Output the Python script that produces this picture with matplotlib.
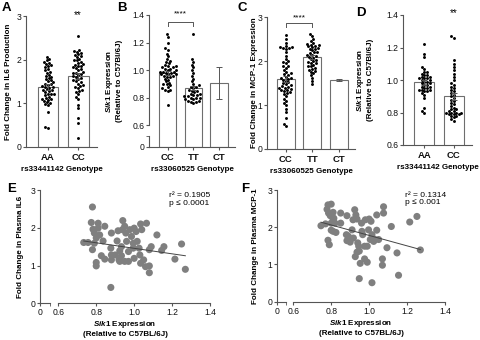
import matplotlib
matplotlib.use("Agg")
import matplotlib.pyplot as plt
import numpy as np
import pandas as pd
import seaborn as sns

# ---- datos ----
# A: IL6 production vs rs33441142
a_groups = ["AA", "CC"]
a_mean = [1.37, 1.63]
a_sem = [0.06, 0.07]
a_AA = [2.05, 2.02, 1.98, 1.95, 1.93, 1.90, 1.88, 1.85, 1.82, 1.78, 1.75, 1.72, 1.70,
        1.65, 1.62, 1.58, 1.55, 1.52, 1.50, 1.48, 1.45, 1.42, 1.40, 1.38, 1.36, 1.35,
        1.32, 1.30, 1.28, 1.25, 1.22, 1.20, 1.18, 1.15, 1.12, 1.10, 1.08, 1.05, 1.02,
        1.00, 0.97, 0.95, 0.80, 0.45, 0.42, 1.60, 1.45, 1.30, 1.20, 1.10]
a_CC = [2.55, 2.22, 2.20, 2.18, 2.15, 2.12, 2.10, 2.05, 2.02, 2.00, 1.98, 1.95, 1.92,
        1.90, 1.88, 1.85, 1.82, 1.80, 1.78, 1.75, 1.72, 1.70, 1.68, 1.65, 1.62, 1.60,
        1.58, 1.55, 1.52, 1.50, 1.48, 1.45, 1.42, 1.40, 1.38, 1.35, 1.30, 1.28, 1.25,
        1.20, 1.15, 1.10, 0.95, 0.88, 0.65, 0.55, 0.20, 1.70, 1.85, 2.08]

# B: Sik1 vs rs33060525
b_groups = ["CC", "TT", "CT"]
b_mean = [0.98, 0.873, 0.905]
b_sem = [0.015, 0.015, 0.115]
b_CC = [1.26, 1.24, 1.20, 1.16, 1.15, 1.12, 1.10, 1.08, 1.07, 1.06, 1.05, 1.04, 1.03,
        1.02, 1.02, 1.01, 1.00, 1.00, 0.99, 0.99, 0.98, 0.98, 0.97, 0.97, 0.96, 0.96,
        0.95, 0.95, 0.94, 0.93, 0.92, 0.91, 0.90, 0.90, 0.89, 0.88, 0.87, 0.86, 0.86,
        0.85, 0.75, 1.01, 1.03, 0.99, 0.97]
b_TT = [1.26, 1.08, 1.06, 1.04, 1.02, 1.00, 0.98, 0.96, 0.94, 0.92, 0.90, 0.89, 0.88,
        0.87, 0.86, 0.85, 0.84, 0.83, 0.82, 0.82, 0.81, 0.81, 0.80, 0.80, 0.80, 0.79,
        0.79, 0.78, 0.78, 0.77, 0.77, 0.76, 0.85, 0.83, 0.88]

# C: MCP-1 vs rs33060525
c_groups = ["CC", "TT", "CT"]
c_mean = [1.60, 2.10, 1.58]
c_sem = [0.07, 0.05, 0.02]
c_CC = [2.60, 2.50, 2.42, 2.35, 2.33, 2.32, 2.30, 2.28, 2.20, 2.12, 2.05, 2.00, 1.95,
        1.90, 1.88, 1.85, 1.80, 1.76, 1.72, 1.70, 1.68, 1.65, 1.62, 1.60, 1.58, 1.55,
        1.52, 1.50, 1.48, 1.45, 1.43, 1.40, 1.38, 1.36, 1.34, 1.32, 1.30, 1.28, 1.25,
        1.20, 1.15, 1.10, 1.05, 1.00, 0.92, 0.85, 0.70, 0.57, 0.52, 1.42, 1.62, 1.35,
        2.31, 1.98]
c_TT = [2.62, 2.58, 2.50, 2.45, 2.42, 2.40, 2.38, 2.36, 2.34, 2.32, 2.30, 2.28, 2.25,
        2.22, 2.20, 2.18, 2.15, 2.12, 2.10, 2.08, 2.05, 2.02, 2.00, 1.98, 1.95, 1.92,
        1.90, 1.88, 1.85, 1.82, 1.80, 1.78, 1.75, 1.72, 1.68, 1.62, 1.55, 1.48, 2.35,
        2.28, 2.15, 1.95]

# D: Sik1 vs rs33441142
d_groups = ["AA", "CC"]
d_mean = [0.986, 0.90]
d_sem = [0.015, 0.02]
d_AA = [1.22, 1.16, 1.14, 1.08, 1.07, 1.05, 1.04, 1.03, 1.03, 1.02, 1.02, 1.01, 1.01,
        1.00, 1.00, 0.99, 0.99, 0.98, 0.97, 0.97, 0.96, 0.95, 0.95, 0.94, 0.94, 0.94,
        0.93, 0.93, 0.92, 0.91, 0.89, 0.83, 0.81, 0.80, 1.05, 0.98, 0.96, 1.01]
d_CC = [1.27, 1.26, 1.12, 1.10, 1.08, 1.06, 1.04, 1.02, 1.00, 0.98, 0.97, 0.96, 0.95,
        0.94, 0.93, 0.92, 0.91, 0.90, 0.89, 0.88, 0.87, 0.86, 0.85, 0.84, 0.83, 0.82,
        0.81, 0.81, 0.80, 0.80, 0.80, 0.79, 0.79, 0.79, 0.78, 0.78, 0.77, 0.76, 0.75,
        0.82, 0.80]

# E: plasma IL6 vs Sik1
e_x = [0.734, 0.757, 0.78, 0.774, 0.79, 0.80, 0.79, 0.81, 0.81, 0.783, 0.818, 0.78,
       0.80, 0.80, 0.827, 0.845, 0.836, 0.845, 0.877, 0.88, 0.88, 0.88, 0.877, 0.91,
       0.915, 0.924, 0.92, 0.933, 0.938, 0.94, 0.95, 0.956, 0.96, 0.933, 0.97, 0.977,
       0.986, 0.995, 1.00, 0.995, 0.97, 1.00, 1.01, 1.016, 1.026, 1.03, 1.034, 1.04,
       1.05, 1.034, 1.06, 1.08, 1.08, 1.065, 1.08, 1.09, 1.12, 1.145, 1.157, 1.215,
       1.25, 1.27, 0.95, 0.924, 0.90]
e_y = [1.61, 1.61, 2.55, 2.14, 1.59, 1.73, 1.86, 2.12, 1.99, 1.96, 1.81, 1.42, 1.08,
       0.99, 1.26, 2.04, 1.65, 1.17, 1.46, 1.86, 1.15, 1.28, 0.42, 1.65, 1.92, 1.39,
       1.15, 1.26, 1.95, 2.19, 2.04, 1.86, 1.64, 1.50, 1.37, 1.95, 1.77, 1.59, 1.99,
       1.46, 1.11, 1.19, 1.90, 1.64, 1.46, 1.28, 2.10, 1.95, 1.15, 1.06, 0.97, 0.99,
       0.81, 2.12, 1.42, 1.50, 1.81, 1.40, 1.50, 1.17, 1.57, 0.90, 1.11, 1.11, 1.28]
e_fit = [-0.73, 2.186]   # pendiente, ordenada
e_txt = "r² = 0.1905\np ≤ 0.0001"

# F: plasma MCP-1 vs Sik1
f_x = [0.746, 0.77, 0.778, 0.783, 0.80, 0.786, 0.795, 0.807, 0.81, 0.814, 0.80, 0.82,
       0.80, 0.81, 0.825, 0.783, 0.79, 0.85, 0.85, 0.883, 0.88, 0.883, 0.89, 0.90,
       0.91, 0.915, 0.924, 0.93, 0.936, 0.917, 0.94, 0.945, 0.927, 0.936, 0.948, 0.96,
       0.962, 0.966, 0.976, 0.976, 0.99, 0.953, 0.99, 0.948, 0.98, 1.00, 1.01, 1.015,
       0.997, 1.006, 1.024, 1.015, 1.04, 1.05, 1.076, 1.076, 1.07, 1.07, 1.094, 1.117,
       1.147, 1.155, 1.214, 1.252, 1.27, 1.03, 1.04]
f_y = [2.04, 2.09, 2.48, 2.60, 2.62, 2.38, 2.31, 2.26, 2.40, 2.24, 2.11, 2.11, 1.92,
       1.89, 1.86, 1.65, 1.53, 2.38, 2.11, 2.31, 1.80, 1.64, 1.76, 1.60, 1.93, 2.20,
       2.47, 2.33, 2.22, 1.71, 1.58, 1.49, 1.21, 1.33, 1.36, 2.11, 1.89, 1.80, 1.49,
       1.15, 1.49, 1.03, 1.06, 0.62, 2.20, 2.22, 2.16, 1.80, 1.93, 1.67, 1.62, 0.51,
       2.33, 1.67, 2.55, 2.38, 1.15, 0.98, 1.45, 2.02, 1.31, 0.71, 2.14, 2.29, 1.39,
       1.67, 1.92]
f_fit = [-1.40, 3.18]
f_txt = "r² = 0.1314\np ≤ 0.001"

# ---- estilo ----
plt.rcParams['font.family'] = ['Liberation Sans', 'DejaVu Sans']
plt.rcParams['mathtext.fontset'] = 'custom'
plt.rcParams['mathtext.it'] = 'Liberation Sans:italic:bold'
plt.rcParams['mathtext.rm'] = 'Liberation Sans:bold'
gris = '#555555'
plt.rcParams['axes.edgecolor'] = gris
plt.rcParams['axes.linewidth'] = 0.8
plt.rcParams['xtick.color'] = gris
plt.rcParams['ytick.color'] = gris
plt.rcParams['xtick.labelcolor'] = '#111111'
plt.rcParams['ytick.labelcolor'] = '#111111'
for k in ['xtick.major.size', 'ytick.major.size', 'xtick.minor.size', 'ytick.minor.size']:
    plt.rcParams[k] = 2.0
for k in ['xtick.major.pad', 'ytick.major.pad']:
    plt.rcParams[k] = 1.5
plt.rcParams['xtick.labelsize'] = 6.2
plt.rcParams['ytick.labelsize'] = 6.2

W, H = 480, 340
fig = plt.figure(figsize=(4.8, 3.4), dpi=100)


def eje(x0, x1, y0, y1):
    # rectangulo en pixeles (x izquierda, x derecha, y arriba, y abajo)
    return fig.add_axes([x0 / W, 1 - y1 / H, (x1 - x0) / W, (y1 - y0) / H])


def escala_rota(c, lo=0.6):
    def fwd(v):
        v = np.asarray(v, dtype=float)
        return np.where(v < lo, v * c, v - lo + lo * c)

    def inv(t):
        t = np.asarray(t, dtype=float)
        return np.where(t < lo * c, t / c, t + lo - lo * c)
    return fwd, inv


def barras(ax, grupos, medias, sems, puntos):
    pos = np.arange(len(grupos))
    ax.bar(pos, medias, width=0.68, color='white', edgecolor='#6e6e6e',
           linewidth=0.8, zorder=1)
    filas = []
    for g, vals in puntos.items():
        for v in vals:
            filas.append((g, v))
    df = pd.DataFrame(filas, columns=['g', 'v'])
    sns.swarmplot(data=df, x='g', y='v', order=grupos, color='black', size=2.1,
                  ax=ax, zorder=3)
    ax.errorbar(pos, medias, yerr=sems, fmt='none', ecolor='#555555',
                elinewidth=0.7, capsize=2, capthick=0.7, zorder=4)
    ax.set_xticks(pos)
    ax.set_xticklabels(grupos, fontweight='bold', fontsize=6.8)
    ax.tick_params(axis='x', pad=2.5)
    ax.set_xlim(-0.72, len(grupos) - 1 + 0.62)
    ax.spines['top'].set_visible(False)
    ax.spines['right'].set_visible(False)
    ax.set_ylabel('')
    ax.set_xlabel('')


etiq = dict(fontsize=5.8, fontweight='bold')
sik = r'$\mathit{Sik1}$ Expression'

# A
axA = eje(26, 97, 16, 146.7)
barras(axA, a_groups, a_mean, a_sem, {"AA": a_AA, "CC": a_CC})
axA.set_ylim(0, 3)
axA.set_yticks([0, 1, 2, 3])
axA.set_ylabel('Fold Change in IL6 Production', **etiq)
axA.yaxis.set_label_coords(-0.2, 0.5)
axA.set_xlabel('rs33441142 Genotype', labelpad=3, **etiq)
axA.text(1, 3.02, '**', ha='center', va='center', fontsize=7, clip_on=False)

# B (eje y roto)
axB = eje(149, 235, 15, 147)
axB.set_yscale('function', functions=escala_rota(0.26))
barras(axB, b_groups, b_mean, b_sem, {"CC": b_CC, "TT": b_TT})
axB.set_ylim(0, 1.4)
axB.set_yticks([0, 0.6, 0.8, 1.0, 1.2, 1.4])
axB.set_yticklabels(['0', '0.6', '0.8', '1.0', '1.2', '1.4'])
axB.set_yticks([0.3], minor=True)
axB.spines['left'].set_bounds(0.6, 1.4)
axB.plot([0, 0], [0, 0.3], transform=axB.get_yaxis_transform(), color=gris,
         lw=0.8, clip_on=False)
axB.set_ylabel(sik + '\n(Relative to C57Bl/6J)', linespacing=1.3, **etiq)
axB.yaxis.set_label_coords(-0.3, 0.5)
axB.set_xlabel('rs33060525 Genotype', labelpad=3, **etiq)
axB.plot([0, 0, 1, 1], [1.32, 1.35, 1.35, 1.32], color=gris, lw=0.7, clip_on=False)
axB.text(0.5, 1.41, '****', ha='center', va='center', fontsize=6, clip_on=False)

# C
axC = eje(267, 355, 17.3, 149)
barras(axC, c_groups, c_mean, c_sem, {"CC": c_CC, "TT": c_TT})
axC.set_ylim(0, 3)
axC.set_yticks([0, 1, 2, 3])
axC.set_ylabel('Fold Change in MCP-1 Expression', **etiq)
axC.yaxis.set_label_coords(-0.1, 0.5)
axC.set_xlabel('rs33060525 Genotype', labelpad=3, **etiq)
axC.plot([0, 0, 1, 1], [2.78, 2.88, 2.88, 2.78], color=gris, lw=0.7, clip_on=False)
axC.text(0.5, 2.98, '****', ha='center', va='center', fontsize=6, clip_on=False)

# D
axD = eje(403, 472, 15, 145)
barras(axD, d_groups, d_mean, d_sem, {"AA": d_AA, "CC": d_CC})
axD.set_ylim(0.6, 1.4)
axD.set_yticks([0.6, 0.8, 1.0, 1.2, 1.4])
axD.set_ylabel(sik + '\n(Relative to C57Bl/6J)', linespacing=1.3, **etiq)
axD.yaxis.set_label_coords(-0.42, 0.5)
axD.set_xlabel('rs33441142 Genotype', labelpad=3, **etiq)
axD.text(1, 1.41, '**', ha='center', va='center', fontsize=7, clip_on=False)


def dispersion(ax, xs, ys, fit, txt, ylab, c):
    ax.set_xscale('function', functions=escala_rota(c))
    ax.scatter(xs, ys, s=26, color='#7f7f7f', edgecolors='none', zorder=2)
    xl = np.array([min(xs), max(xs)])
    ax.plot(xl, fit[0] * xl + fit[1], color='#444444', lw=0.7, zorder=3)
    ax.set_xlim(0, 1.4)
    ax.set_ylim(0, 3)
    ax.set_xticks([0, 0.6, 0.8, 1.0, 1.2, 1.4])
    ax.set_xticklabels(['0', '0.6', '0.8', '1.0', '1.2', '1.4'])
    ax.set_xticks([0.32], minor=True)
    ax.set_yticks([0, 1, 2, 3])
    ax.spines['top'].set_visible(False)
    ax.spines['right'].set_visible(False)
    ax.spines['bottom'].set_bounds(0.6, 1.4)
    ax.plot([0, 0.32], [0, 0], transform=ax.get_xaxis_transform(), color=gris,
            lw=0.8, clip_on=False)
    ax.text(0.76, 0.98, txt, transform=ax.transAxes, ha='left', va='top',
            fontsize=6.0, linespacing=1.05)
    ax.set_ylabel(ylab, **etiq)
    ax.set_xlabel(sik + '\n(Relative to C57BL/6J)', labelpad=1.5, linespacing=1.25, **etiq)


axE = eje(40, 210, 190, 303.3)
dispersion(axE, e_x, e_y, e_fit, e_txt, 'Fold Change in Plasma IL6', 0.161)
axE.yaxis.set_label_coords(-0.095, 0.5)

axF = eje(277, 445, 190, 301.7)
dispersion(axF, f_x, f_y, f_fit, f_txt, 'Fold Change in Plasma MCP-1', 0.143)
axF.yaxis.set_label_coords(-0.105, 0.5)

# letras de panel
for letra, (px, py) in {"A": (6, 8), "B": (122, 8), "C": (242, 8), "D": (361, 13),
                        "E": (12, 189), "F": (245, 189)}.items():
    fig.text(px / W, 1 - py / H, letra, fontsize=9.5, fontweight='bold',
             ha='center', va='center')

fig.savefig('out.png', dpi=100)
